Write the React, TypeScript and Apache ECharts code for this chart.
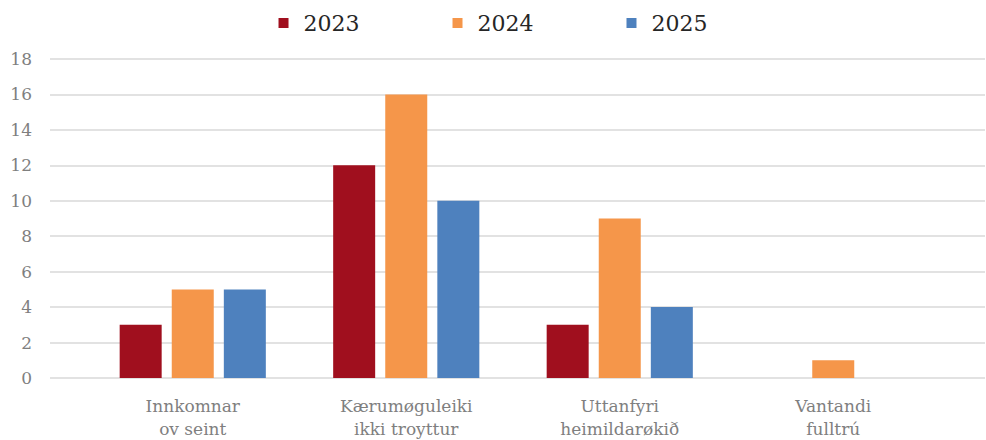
import React, { useEffect, useRef } from "react";
import * as echarts from "echarts";

const categories = ["Innkomnar\nov seint", "Kærumøguleiki\nikki troyttur", "Uttanfyri\nheimildarøkið", "Vantandi\nfulltrú"];
const years = ["2023", "2024", "2025"];
const values2023 = [3, 12, 3, null];
const values2024 = [5, 16, 9, 1];
const values2025 = [5, 10, 4, null];
const colors = ["#A00F1E", "#F5964A", "#4E81BE"];

const FONT = "DejaVu Serif";

export default function App() {
  const ref = useRef<HTMLDivElement>(null);
  useEffect(() => {
    if (!ref.current) return;
    document.body.style.margin = "0";
    const chart = echarts.init(ref.current, undefined, { renderer: "svg" });
    const seriesData = [values2023, values2024, values2025];
    chart.setOption({
      animation: false,
      textStyle: { fontFamily: FONT },
      legend: {
        top: 7,
        left: "center",
        itemWidth: 10,
        itemHeight: 10,
        itemGap: 93,
        icon: "rect",
        textStyle: { fontFamily: FONT, fontSize: 22, color: "#262626", padding: [0, 0, 0, 10] },
        data: years,
      },
      grid: [
        { left: 50, right: 1, top: 59, bottom: 62, outerBoundsMode: "none" },
        { left: 86, right: 46, top: 59, bottom: 62, outerBoundsMode: "none" },
      ],
      xAxis: [
        { type: "category", gridIndex: 0, data: categories, show: false },
        {
          type: "category",
          gridIndex: 1,
          data: categories,
          axisLine: { show: false },
          axisTick: { show: false },
          axisLabel: {
            fontFamily: FONT,
            fontSize: 17,
            color: "#7f7f7f",
            margin: 16,
            lineHeight: 23,
            interval: 0,
          },
        },
      ],
      yAxis: [
        {
          type: "value",
          gridIndex: 0,
          min: 0,
          max: 18,
          interval: 2,
          axisLine: { show: false },
          axisTick: { show: false },
          axisLabel: { fontFamily: FONT, fontSize: 17, color: "#7f7f7f", margin: 18 },
          splitLine: { lineStyle: { color: "#d9d9d9", width: 1.5 } },
        },
        { type: "value", gridIndex: 1, min: 0, max: 18, interval: 2, show: false },
      ],
      series: years.map((y, i) => ({
        name: y,
        type: "bar",
        xAxisIndex: 1,
        yAxisIndex: 1,
        data: seriesData[i],
        barWidth: 42,
        barGap: "24%",
        itemStyle: { color: colors[i] },
      })),
    });
    return () => chart.dispose();
  }, []);
  return <div ref={ref} style={{ width: 986, height: 440 }} />;
}
